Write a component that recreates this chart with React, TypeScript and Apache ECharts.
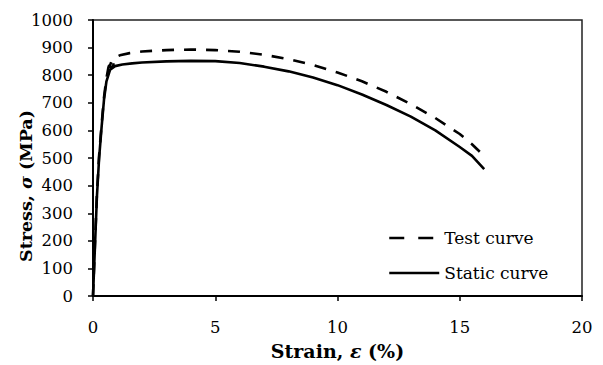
import React, { useEffect, useRef } from "react";
import * as echarts from "echarts";

const seriesNames = ["Test curve", "Static curve"];

const testStrain = [0, 0.08, 0.16, 0.25, 0.35, 0.45, 0.55, 0.63, 0.7, 0.78, 0.86, 0.82, 0.74, 0.7, 0.76, 0.9, 1.1, 1.5, 2, 3, 4, 5, 6, 7, 8, 9, 10, 11, 12, 13, 14, 15, 15.5, 16];
const testStress = [0, 190, 370, 510, 620, 720, 790, 828, 846, 855, 850, 832, 826, 836, 852, 864, 872, 880, 886, 891, 893, 891, 885, 874, 858, 837, 810, 778, 740, 695, 645, 587, 550, 507];

const staticStrain = [0, 0.08, 0.16, 0.25, 0.35, 0.45, 0.55, 0.7, 0.9, 1.2, 1.6, 2, 3, 4, 5, 6, 7, 8, 9, 10, 11, 12, 13, 14, 15, 15.5, 16];
const staticStress = [0, 180, 360, 500, 610, 712, 778, 820, 833, 839, 843, 846, 850, 852, 851, 844, 831, 814, 792, 764, 730, 692, 650, 600, 540, 508, 460];

const xTicks = { min: 0, max: 20, interval: 5 };
const yTicks = { min: 0, max: 1000, interval: 100 };

const FONT = "DejaVu Serif";

export default function App() {
  const ref = useRef<HTMLDivElement>(null);
  useEffect(() => {
    if (!ref.current) return;
    const chart = echarts.init(ref.current, undefined, { renderer: "svg" });
    const testData = testStrain.map((x, i) => [x, testStress[i]]);
    const staticData = staticStrain.map((x, i) => [x, staticStress[i]]);
    const base = { fontFamily: FONT, color: "#000" };
    chart.setOption({
      animation: false,
      backgroundColor: "#fff",
      textStyle: base,
      grid: {
        left: 93,
        right: 21,
        top: 20,
        bottom: 61,
        show: true,
        borderColor: "#222",
        borderWidth: 1.5,
      },
      xAxis: {
        type: "value",
        min: xTicks.min,
        max: xTicks.max,
        interval: xTicks.interval,
        splitLine: { show: false },
        axisLine: { show: true, onZero: false, lineStyle: { color: "#000", width: 2 } },
        axisTick: { show: true, inside: false, length: 5, lineStyle: { color: "#000", width: 1.5 } },
        axisLabel: { ...base, fontSize: 16.5, margin: 23 },
        name: "Strain, {i|ε} (%)",
        nameLocation: "middle",
        nameGap: 43,
        nameTextStyle: {
          ...base,
          fontSize: 19,
          fontWeight: "bold",
          rich: {
            i: { ...base, fontSize: 19, fontWeight: "bold", fontStyle: "italic" },
          },
        },
      },
      yAxis: {
        type: "value",
        min: yTicks.min,
        max: yTicks.max,
        interval: yTicks.interval,
        splitLine: { show: false },
        axisLine: { show: true, onZero: false, lineStyle: { color: "#000", width: 2 } },
        axisTick: { show: true, inside: false, length: 5, lineStyle: { color: "#000", width: 1.5 } },
        axisLabel: {
          ...base,
          fontSize: 16.5,
          margin: 20,
          formatter: (v: number) => String(v),
        },
      },
      graphic: [
        {
          type: "text",
          x: 26,
          y: 186,
          rotation: Math.PI / 2,
          style: {
            text: "Stress, {i|σ} (MPa)",
            fontFamily: FONT,
            fontSize: 17.5,
            fontWeight: "bold",
            fill: "#000",
            align: "center",
            verticalAlign: "middle",
            rich: {
              i: { fontFamily: FONT, fontSize: 17.5, fontWeight: "bold", fontStyle: "italic", fill: "#000" },
            },
          },
        },
      ],
      legend: {
        orient: "vertical",
        left: 383,
        top: 224.5,
        itemWidth: 50,
        itemHeight: 14,
        itemGap: 18,
        textStyle: { ...base, fontSize: 17 },
        itemStyle: { opacity: 0 },
        data: [
          { name: seriesNames[0], lineStyle: { type: [15, 14], width: 2.5, color: "#000" } },
          { name: seriesNames[1], lineStyle: { type: "solid", width: 2.5, color: "#000" } },
        ],
      },
      series: [
        {
          name: seriesNames[0],
          type: "line",
          data: testData,
          symbol: "none",
          smooth: false,
          lineStyle: { color: "#000", width: 2.6, type: [12, 10] },
          itemStyle: { color: "#000" },
        },
        {
          name: seriesNames[1],
          type: "line",
          data: staticData,
          symbol: "none",
          smooth: false,
          lineStyle: { color: "#000", width: 2.6, type: "solid" },
          itemStyle: { color: "#000" },
        },
      ],
    });
    return () => chart.dispose();
  }, []);
  return (
    <div
      ref={ref}
      style={{ position: "fixed", left: 0, top: 0, width: 603, height: 365, background: "#fff" }}
    />
  );
}
